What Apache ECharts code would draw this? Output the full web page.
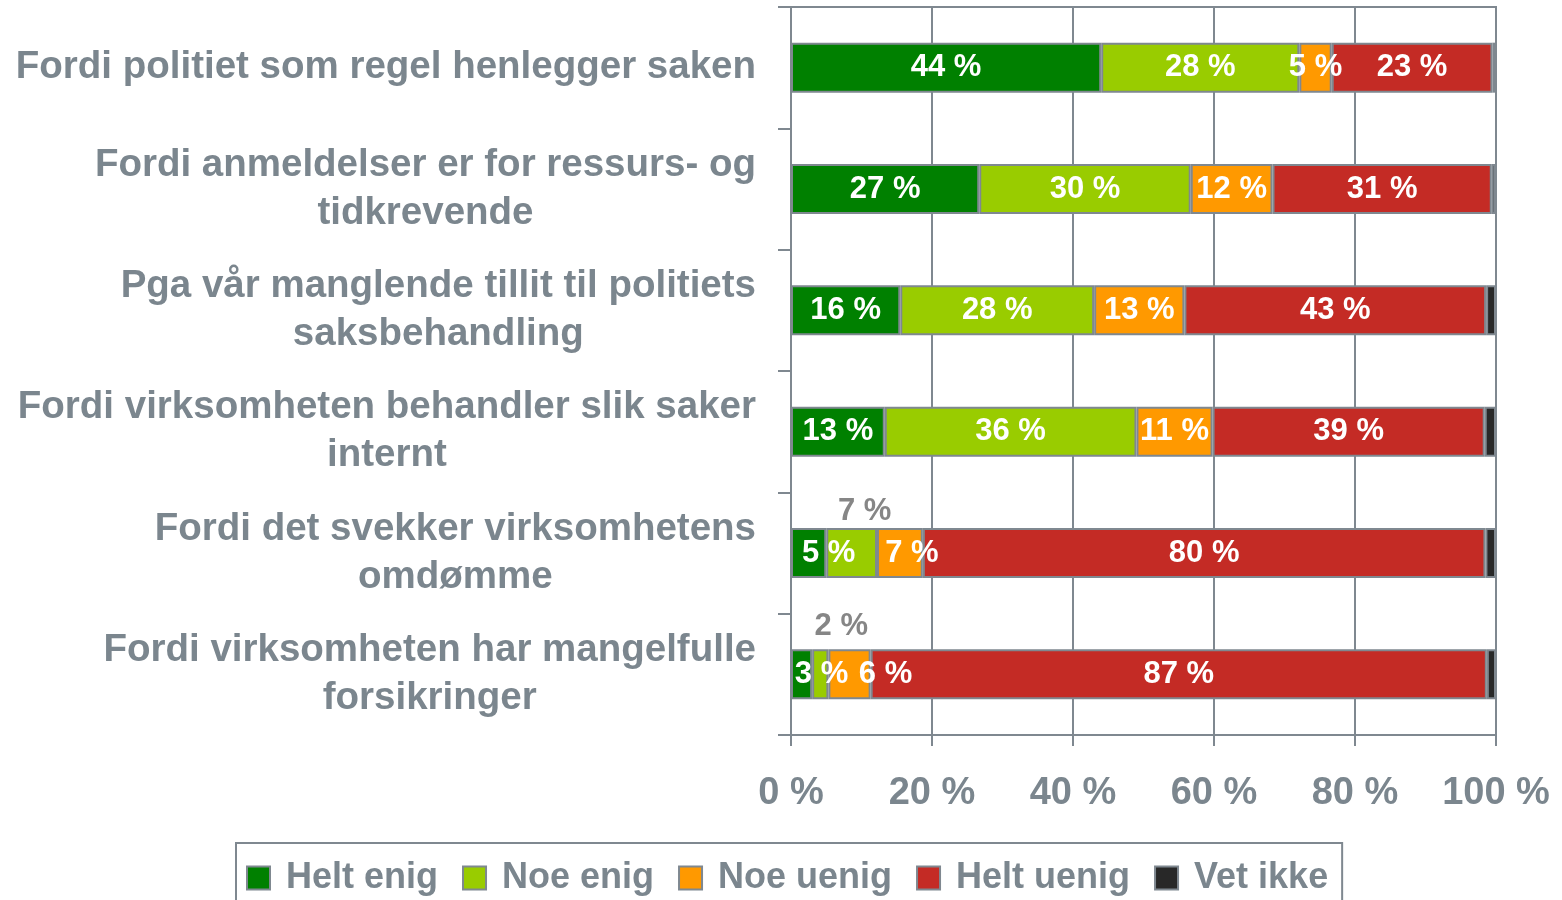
<!DOCTYPE html>
<html>
<head>
<meta charset="utf-8">
<script src="https://cdn.jsdelivr.net/npm/echarts@6/dist/echarts.min.js"></script>
<style>
  html, body { margin: 0; padding: 0; background: #fff; }
  #chart { width: 1562px; height: 900px; }
</style>
</head>
<body>
<div id="chart"></div>
<script>
var categories = [
    'Fordi politiet som regel henlegger saken',
    'Fordi anmeldelser er for ressurs- og\ntidkrevende',
    'Pga vår manglende tillit til politiets\nsaksbehandling',
    'Fordi virksomheten behandler slik saker\ninternt',
    'Fordi det svekker virksomhetens\nomdømme',
    'Fordi virksomheten har mangelfulle\nforsikringer'
];
var seriesNames = ['Helt enig', 'Noe enig', 'Noe uenig', 'Helt uenig', 'Vet ikke'];
var heltEnig  = [44.0, 26.7, 15.5, 13.3, 5.0, 3.0];
var noeEnig   = [28.1, 30.0, 27.5, 35.7, 7.2, 2.3];
var noeUenig  = [4.6, 11.6, 12.8, 10.8, 6.5, 6.0];
var heltUenig = [22.8, 31.1, 42.8, 38.6, 79.8, 87.4];
var vetIkke   = [0.5, 0.6, 1.4, 1.6, 1.5, 1.3];

var colors = ['#008000', '#99cc00', '#ff9900', '#c42b25', '#282828'];
var gray = '#7b868e';
var lineGray = '#7f8890';
var font = 'Liberation Sans, Arial, sans-serif';

// labels that Excel moved around on the two bottom bars
var labelTweaks = {
    '0-4': { offset: [20, 0] },
    '0-5': { offset: [20, 0] },
    '1-4': { position: 'top', color: '#868686', offset: [13, 0], distance: 1 },
    '1-5': { position: 'top', color: '#868686', offset: [21, 0], distance: 7 },
    '2-4': { offset: [12, 0] },
    '2-5': { offset: [36, 0] }
};

var values = [heltEnig, noeEnig, noeUenig, heltUenig, vetIkke];

var series = [];
for (var s = 0; s < values.length; s++) {
    var data = [];
    for (var i = 0; i < values[s].length; i++) {
        var d = { value: values[s][i] };
        if (labelTweaks[s + '-' + i]) d.label = labelTweaks[s + '-' + i];
        data.push(d);
    }
    series.push({
        name: seriesNames[s],
        type: 'bar',
        stack: 'total',
        barWidth: 50,
        data: data,
        itemStyle: { color: colors[s], borderColor: lineGray, borderWidth: 2 },
        label: {
            show: s < 4,
            position: 'inside',
            color: '#fff',
            fontSize: 31,
            fontWeight: 'bold',
            fontFamily: font,
            formatter: function (p) { return Math.round(p.value) + ' %'; }
        }
    });
}

var chart = echarts.init(document.getElementById('chart'));
var option = {
    animation: false,
    backgroundColor: '#fff',
    grid: {
        left: 791, right: 66, top: 7, bottom: 165,
        show: true, borderColor: lineGray, borderWidth: 2
    },
    legend: {
        data: seriesNames,
        left: 236,
        top: 843,
        orient: 'horizontal',
        padding: [15, 14, 30, 10],
        borderColor: lineGray,
        borderWidth: 2,
        itemWidth: 23,
        itemHeight: 23,
        itemGap: 24,
        icon: 'rect',
        textStyle: {
            color: gray, fontSize: 36, fontWeight: 'bold', fontFamily: font,
            lineHeight: 40, padding: [0, 0, 0, 11]
        }
    },
    xAxis: {
        type: 'value',
        min: 0,
        max: 100,
        interval: 20,
        axisLine: { show: true, lineStyle: { color: lineGray, width: 2 } },
        axisTick: { show: true, length: 11, lineStyle: { color: lineGray, width: 2 } },
        splitLine: { show: true, lineStyle: { color: lineGray, width: 2 } },
        axisLabel: {
            margin: 40,
            color: gray, fontSize: 38, fontWeight: 'bold', fontFamily: font,
            formatter: '{value} %'
        }
    },
    yAxis: {
        type: 'category',
        inverse: true,
        data: categories,
        axisLine: { show: true, lineStyle: { color: lineGray, width: 2 } },
        axisTick: { show: true, length: 13, lineStyle: { color: lineGray, width: 2 } },
        axisLabel: {
            margin: 35,
            formatter: function (v) {
                return v.split('\n').map(function (l) { return '{c|' + l + '}'; }).join('\n');
            },
            rich: {
                c: {
                    align: 'center',
                    color: gray, fontSize: 38.5, fontWeight: 'bold', fontFamily: font,
                    lineHeight: 48
                }
            }
        }
    },
    series: series
};
chart.setOption(option);
</script>
</body>
</html>
